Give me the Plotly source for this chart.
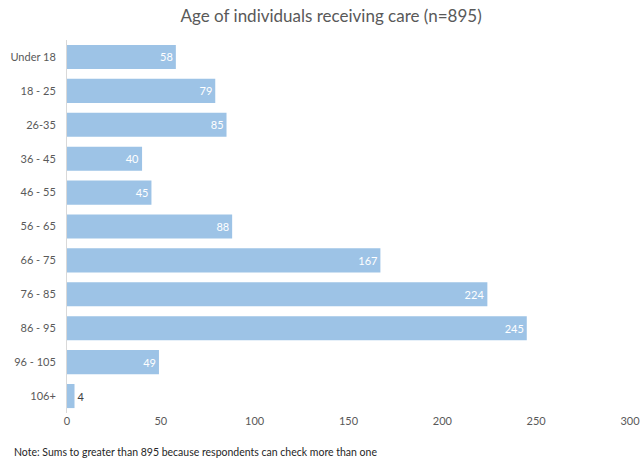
import plotly.graph_objects as go

categories = ["Under 18", "18 - 25", "26-35", "36 - 45", "46 - 55", "56 - 65",
              "66 - 75", "76 - 85", "86 - 95", "96 - 105", "106+"]
values = [58, 79, 85, 40, 45, 88, 167, 224, 245, 49, 4]
tick_vals = [0, 50, 100, 150, 200, 250, 300]

FONT = "Lato, 'Open Sans', sans-serif"

text_pos = ["inside" if v > 20 else "outside" for v in values]
text_col = ["white" if v > 20 else "#404040" for v in values]

fig = go.Figure(go.Bar(
    y=categories, x=values, orientation="h",
    marker=dict(color="#9DC3E6", line=dict(width=0)),
    text=[str(v) for v in values], textposition=text_pos,
    insidetextanchor="end",
    textfont=dict(color=text_col, size=11, family=FONT),
    cliponaxis=False,
))

fig.update_layout(
    width=643, height=463,
    margin=dict(l=67, r=13, t=40, b=50, autoexpand=False),
    paper_bgcolor="white", plot_bgcolor="white",
    bargap=0.29,
    title=dict(text="Age of individuals receiving care (n=895)", x=0.515, xanchor="center",
               y=0.965, yanchor="middle",
               font=dict(family=FONT, size=17, color="#595959")),
    font=dict(family=FONT, color="#595959", size=11),
    xaxis=dict(range=[0, 300], tickvals=tick_vals, showgrid=False, zeroline=False,
               showline=False, ticks="", automargin=False,
               tickfont=dict(size=11, color="#595959")),
    yaxis=dict(autorange="reversed", showgrid=False, zeroline=False, automargin=False,
               showline=True, linecolor="#D9D9D9", linewidth=1, ticks="",
               ticklabelstandoff=8, tickfont=dict(size=11, color="#595959")),
    showlegend=False,
    annotations=[dict(text="Note: Sums to greater than 895 because respondents can check more than one",
                      xref="paper", yref="paper", x=-0.098, y=0, xanchor="left", yanchor="middle",
                      yshift=-39, showarrow=False,
                      font=dict(family=FONT, size=10.5, color="#262626"))],
)

fig.write_html("out.html", config={"displayModeBar": False},
               post_script="document.body.style.margin='0';document.body.style.overflow='hidden';")
